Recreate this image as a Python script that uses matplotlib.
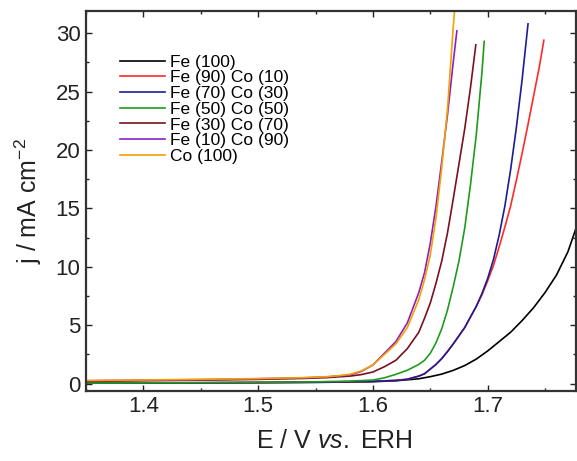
import matplotlib
matplotlib.use("Agg")
import matplotlib.pyplot as plt
from matplotlib.ticker import MultipleLocator

plt.rcParams["font.family"] = ["Liberation Sans", "DejaVu Sans"]
plt.rcParams["mathtext.fontset"] = "custom"
plt.rcParams["mathtext.rm"] = "Liberation Sans"
plt.rcParams["mathtext.it"] = "Liberation Sans:italic"
plt.rcParams["mathtext.default"] = "regular"

# values (E in V, j in mA cm-2)
E_fe100 = [1.35, 1.40, 1.45, 1.50, 1.55, 1.60, 1.62, 1.64, 1.65, 1.66, 1.67, 1.68,
           1.69, 1.70, 1.71, 1.72, 1.73, 1.74, 1.75, 1.76, 1.77, 1.777]
j_fe100 = [0.05, 0.06, 0.07, 0.09, 0.11, 0.17, 0.25, 0.42, 0.60, 0.82, 1.14, 1.55,
           2.1, 2.8, 3.6, 4.4, 5.4, 6.5, 7.8, 9.3, 11.3, 13.3]

E_fe90 = [1.35, 1.40, 1.45, 1.50, 1.55, 1.60, 1.61, 1.62, 1.63, 1.64, 1.645, 1.65,
          1.655, 1.66, 1.665, 1.67, 1.675, 1.68, 1.685, 1.69, 1.695, 1.70, 1.705,
          1.71, 1.715, 1.72, 1.725, 1.73, 1.735, 1.74, 1.745, 1.749]
j_fe90 = [0.05, 0.06, 0.08, 0.10, 0.13, 0.20, 0.24, 0.28, 0.38, 0.65, 0.85, 1.25,
          1.65, 2.15, 2.75, 3.4, 4.1, 4.8, 5.7, 6.6, 7.6, 8.8, 10.1,
          11.7, 13.4, 15.2, 17.4, 19.7, 22.1, 24.6, 27.1, 29.4]

E_fe70 = [1.35, 1.40, 1.45, 1.50, 1.55, 1.60, 1.61, 1.62, 1.63, 1.64, 1.645, 1.65,
          1.655, 1.66, 1.665, 1.67, 1.675, 1.68, 1.685, 1.69, 1.695, 1.70, 1.705,
          1.71, 1.715, 1.72, 1.725, 1.73, 1.7352]
j_fe70 = [0.05, 0.06, 0.08, 0.10, 0.13, 0.20, 0.24, 0.28, 0.38, 0.65, 0.85, 1.25,
          1.65, 2.15, 2.75, 3.4, 4.1, 4.8, 5.7, 6.6, 7.7, 9.0, 10.6,
          12.7, 15.2, 18.3, 21.9, 26.0, 30.8]

E_fe50 = [1.35, 1.40, 1.45, 1.50, 1.55, 1.58, 1.60, 1.61, 1.62, 1.63, 1.64, 1.645,
          1.65, 1.655, 1.66, 1.665, 1.67, 1.675, 1.68, 1.685, 1.69, 1.695, 1.697]
j_fe50 = [0.05, 0.07, 0.09, 0.12, 0.16, 0.22, 0.31, 0.50, 0.80, 1.15, 1.65, 2.0,
          2.6, 3.5, 4.7, 6.3, 8.3, 10.5, 13.3, 17.0, 21.2, 26.6, 29.3]

E_fe30 = [1.35, 1.40, 1.45, 1.50, 1.54, 1.56, 1.58, 1.59, 1.60, 1.61, 1.62, 1.63,
          1.64, 1.645, 1.65, 1.655, 1.66, 1.665, 1.67, 1.675, 1.68, 1.685, 1.6897]
j_fe30 = [0.20, 0.25, 0.30, 0.37, 0.45, 0.52, 0.65, 0.78, 1.0, 1.45, 2.0, 3.0,
          4.4, 5.6, 6.9, 8.6, 10.5, 12.9, 15.8, 18.8, 21.8, 25.3, 29.0]

E_fe10 = [1.35, 1.40, 1.45, 1.50, 1.54, 1.56, 1.58, 1.59, 1.60, 1.61, 1.62, 1.63,
          1.64, 1.645, 1.65, 1.655, 1.66, 1.665, 1.67, 1.6732]
j_fe10 = [0.25, 0.30, 0.35, 0.42, 0.50, 0.58, 0.75, 1.05, 1.6, 2.6, 3.6, 5.2,
          7.8, 9.5, 12.0, 15.2, 19.0, 23.0, 27.5, 30.2]

E_co100 = [1.35, 1.40, 1.45, 1.50, 1.54, 1.56, 1.57, 1.58, 1.59, 1.60, 1.61, 1.62,
           1.63, 1.64, 1.645, 1.65, 1.655, 1.66, 1.665, 1.67, 1.672]
j_co100 = [0.27, 0.32, 0.37, 0.44, 0.52, 0.60, 0.68, 0.80, 1.1, 1.6, 2.5, 3.4,
           4.8, 7.2, 8.9, 11.0, 14.2, 18.5, 23.5, 30.5, 33.0]

labels = ["Fe (100)", "Fe (90) Co (10)", "Fe (70) Co (30)", "Fe (50) Co (50)",
          "Fe (30) Co (70)", "Fe (10) Co (90)", "Co (100)"]
colors = ["#000000", "#ff2a2a", "#1c1c96", "#1f9a1f", "#7a1020", "#8a1fc8", "#f5a000"]
curves = [(E_fe100, j_fe100), (E_fe90, j_fe90), (E_fe70, j_fe70), (E_fe50, j_fe50),
          (E_fe30, j_fe30), (E_fe10, j_fe10), (E_co100, j_co100)]

fig = plt.figure(figsize=(5.77, 4.61), dpi=100)
ax = fig.add_axes([86 / 577, 1 - 390.7 / 461, 490 / 577, 379.7 / 461])

for (E, j), lab, c in zip(curves, labels, colors):
    ax.plot(E, j, color=c, lw=1.2, label=lab)

ax.set_xlim(1.35, 1.777)
ax.set_ylim(-0.6, 31.9)
ax.xaxis.set_major_locator(MultipleLocator(0.1))
ax.xaxis.set_minor_locator(MultipleLocator(0.05))
ax.yaxis.set_major_locator(MultipleLocator(5))
ax.yaxis.set_minor_locator(MultipleLocator(2.5))
ax.tick_params(which="both", direction="in", top=True, right=True,
               labelsize=16, colors="#222222", width=1.0)
ax.tick_params(which="major", length=4, pad=4)
ax.tick_params(which="minor", length=2)
for s in ax.spines.values():
    s.set_linewidth(1.6)
    s.set_color("#333333")

ax.set_xlabel(r"E / V $\it{vs.}$ ERH", fontsize=18, color="#222222")
ax.set_ylabel(r"j / mA cm$^{-2}$", fontsize=18, color="#222222")
ax.xaxis.set_label_coords(0.508, -0.10)
ax.yaxis.set_label_coords(-0.085, 0.50)

ax.legend(loc="upper left", bbox_to_anchor=(0.069, 0.885), frameon=False,
          fontsize=12.5, handlelength=2.6, handletextpad=0.3, labelspacing=0.03,
          borderpad=0, borderaxespad=0)

fig.savefig("out.png", dpi=100)
